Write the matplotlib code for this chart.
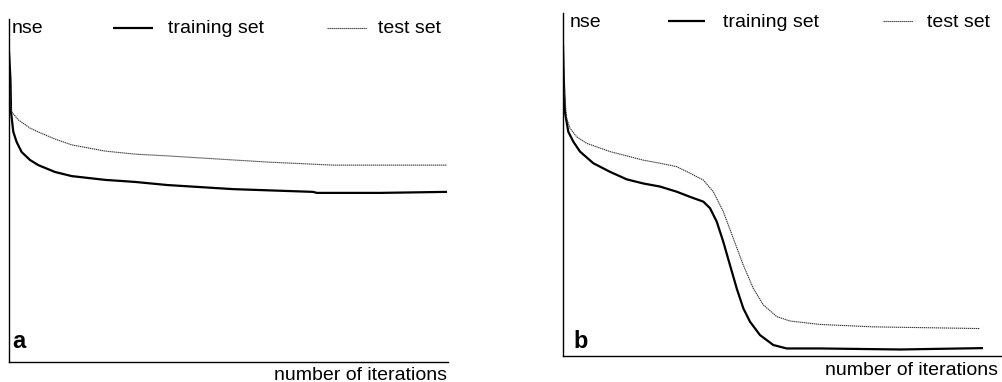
import matplotlib
matplotlib.use("Agg")
import matplotlib.pyplot as plt
from matplotlib.lines import Line2D

plt.rcParams['font.family'] = ['Liberation Sans', 'DejaVu Sans']

# ---- data (iterations, normalised squared error) ----
iter_a_train = [0, 3.4, 4.6, 9.8, 17.5, 28.9, 47.8, 66.7, 104.8, 142.8, 218.7, 287, 359.9,
                510.3, 692.5, 701.6, 845, 997.7]
nse_a_train = [0.904, 0.822, 0.729, 0.671, 0.641, 0.612, 0.589, 0.574, 0.554, 0.542, 0.531,
               0.525, 0.516, 0.504, 0.496, 0.493, 0.493, 0.496]
iter_a_test = [0, 2.3, 3.4, 6.2, 21.2, 47.8, 66.1, 104.8, 142.8, 218.7, 287, 359.9, 435,
               587.7, 738, 997.7]
nse_a_test = [0.886, 0.793, 0.749, 0.729, 0.706, 0.682, 0.671, 0.650, 0.633, 0.615, 0.606,
              0.601, 0.595, 0.583, 0.574, 0.574]

iter_b_train = [0, 1.8, 4.5, 12.0, 23.4, 38.6, 68.9, 106.8, 144.8, 182.5, 220.5, 258.4, 288.6,
                318.9, 334.1, 349.3, 364.3, 379.5, 394.8, 409.8, 425, 447.7, 478, 508.4, 584,
                766, 954.5]
nse_b_train = [0.907, 0.805, 0.711, 0.654, 0.625, 0.596, 0.562, 0.537, 0.515, 0.503, 0.494,
               0.479, 0.464, 0.450, 0.431, 0.392, 0.333, 0.265, 0.197, 0.139, 0.100, 0.061,
               0.032, 0.022, 0.022, 0.019, 0.023]
iter_b_test = [0, 2.3, 8.4, 15.9, 31.1, 53.9, 106.8, 182.5, 220.5, 258.4, 288.6, 318.9, 341.6,
               364.3, 387, 409.8, 432.5, 455.2, 485.7, 515.9, 584, 704.5, 947.7]
nse_b_test = [0.892, 0.776, 0.693, 0.664, 0.639, 0.620, 0.596, 0.571, 0.562, 0.552, 0.533,
              0.513, 0.479, 0.421, 0.343, 0.265, 0.197, 0.149, 0.115, 0.102, 0.092, 0.085,
              0.080]

panel_labels = ['a', 'b']
ylabel_text = 'nse'
xlabel_text = 'number of iterations'
series_names = ['training set', 'test set']

W, H = 1003, 382
fig = plt.figure(figsize=(W / 100, H / 100), dpi=100)


def fx(px):
    return px / W


def fy(py):
    return 1 - py / H


train_style = dict(color='black', lw=1.6, solid_capstyle='butt', solid_joinstyle='round')
test_style = dict(color='#333333', lw=0.8, linestyle=(0, (1.2, 0.6)))

# panel boxes in pixels: left, right, top, bottom
boxes = [(9, 448, 19, 362), (563, 1003, 13, 356)]
data = [(iter_a_train, nse_a_train, iter_a_test, nse_a_test),
        (iter_b_train, nse_b_train, iter_b_test, nse_b_test)]

for i, ((l, r, t, b), (xt, yt, xs, ys)) in enumerate(zip(boxes, data)):
    ax = fig.add_axes([fx(l), fy(b), (r - l) / W, (b - t) / H])
    ax.plot(xt, yt, **train_style)
    ax.plot(xs, ys, **test_style)
    ax.set_xlim(0, 1000)
    ax.set_ylim(0, 1)
    for s in ['top', 'right']:
        ax.spines[s].set_visible(False)
    for s in ['left', 'bottom']:
        ax.spines[s].set_linewidth(1.0)
    ax.set_xticks([])
    ax.set_yticks([])
    ax.patch.set_alpha(0)

# text and legend elements (pixel positions)
legend_pos = [
    dict(nse=(12, 33), l1=(113, 153, 28), t1=(168, 33), l2=(327, 367, 28), t2=(378, 33),
         lab=(12, 348), xl=(447, 380)),
    dict(nse=(570, 27), l1=(668, 705, 21), t1=(723, 27), l2=(883, 913, 21), t2=(927, 27),
         lab=(573, 348), xl=(998, 375)),
]
fs = 14
for i, p in enumerate(legend_pos):
    fig.text(fx(p['nse'][0]), fy(p['nse'][1]), ylabel_text, fontsize=fs, va='baseline', ha='left')
    fig.add_artist(Line2D([fx(p['l1'][0]), fx(p['l1'][1])], [fy(p['l1'][2])] * 2,
                          transform=fig.transFigure, **train_style))
    fig.text(fx(p['t1'][0]), fy(p['t1'][1]), series_names[0], fontsize=fs, va='baseline', ha='left')
    fig.add_artist(Line2D([fx(p['l2'][0]), fx(p['l2'][1])], [fy(p['l2'][2])] * 2,
                          transform=fig.transFigure, **test_style))
    fig.text(fx(p['t2'][0]), fy(p['t2'][1]), series_names[1], fontsize=fs, va='baseline', ha='left')
    fig.text(fx(p['lab'][0]), fy(p['lab'][1]), panel_labels[i], fontsize=17, fontweight='bold',
             va='baseline', ha='left')
    fig.text(fx(p['xl'][0]), fy(p['xl'][1]), xlabel_text, fontsize=fs, va='baseline', ha='right')

fig.savefig('out.png', dpi=100)
